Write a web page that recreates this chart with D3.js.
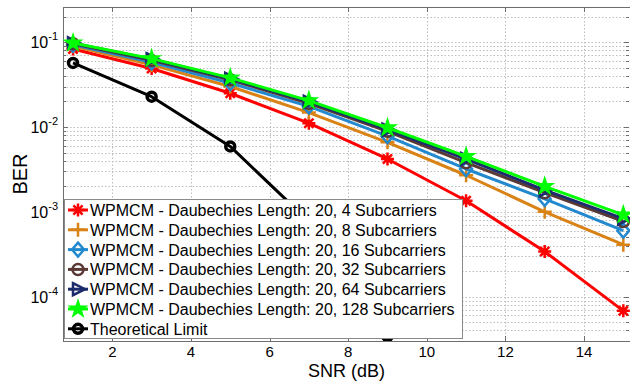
<!DOCTYPE html>
<html>
<head>
<meta charset="utf-8">
<script src="https://cdn.jsdelivr.net/npm/d3@7"></script>
<style>
  body { margin: 0; background: #fff; }
  svg { display: block; font-family: "Liberation Sans", Arial, sans-serif; }
</style>
</head>
<body>
<div class="charts-container"></div>
<script>
"use strict";

// SNR points (dB)
const snr = [1, 3, 5, 7, 9, 11, 13, 15];
const snrTheory = [1, 3, 5, 7, 9, 11];

// BER values
const ber4 = [0.083, 0.049, 0.025, 0.0111, 0.0042, 0.00135, 0.00034, 0.000068];
const ber8 = [0.090, 0.054, 0.030, 0.0148, 0.0066, 0.0027, 0.00100, 0.00041];
const ber16 = [0.093, 0.058, 0.033, 0.0175, 0.0078, 0.0032, 0.00142, 0.00060];
const ber32 = [0.096, 0.061, 0.036, 0.0190, 0.0089, 0.0038, 0.00168, 0.00077];
const ber64 = [0.097, 0.063, 0.037, 0.0198, 0.0093, 0.0042, 0.00180, 0.00083];
const ber128 = [0.098, 0.064, 0.038, 0.0205, 0.0098, 0.0045, 0.00200, 0.00092];
const berTheory = [0.057, 0.0228, 0.0059, 0.00077, 0.000034, 0.00000026];

const seriesNames = [
  "WPMCM - Daubechies Length: 20, 4 Subcarriers",
  "WPMCM - Daubechies Length: 20, 8 Subcarriers",
  "WPMCM - Daubechies Length: 20, 16 Subcarriers",
  "WPMCM - Daubechies Length: 20, 32 Subcarriers",
  "WPMCM - Daubechies Length: 20, 64 Subcarriers",
  "WPMCM - Daubechies Length: 20, 128 Subcarriers",
  "Theoretical Limit"
];

const xTicks = [2, 4, 6, 8, 10, 12, 14];
const yDecades = [1e-4, 1e-3, 1e-2, 1e-1];
const yDecadeLabels = ["-4", "-3", "-2", "-1"];

const series = [
  { name: seriesNames[0], x: snr, y: ber4, color: "#ff0000", marker: "asterisk" },
  { name: seriesNames[1], x: snr, y: ber8, color: "#d98216", marker: "plus" },
  { name: seriesNames[2], x: snr, y: ber16, color: "#2389cf", marker: "diamond" },
  { name: seriesNames[3], x: snr, y: ber32, color: "#5a3935", marker: "circle" },
  { name: seriesNames[4], x: snr, y: ber64, color: "#1b2b6b", marker: "triangle" },
  { name: seriesNames[5], x: snr, y: ber128, color: "#00ff00", marker: "star" },
  { name: seriesNames[6], x: snrTheory, y: berTheory, color: "#000000", marker: "ring" }
];

// marker path drawn around (0, 0)
function markerPath(type) {
  switch (type) {
    case "asterisk":
      return "M-6.5,0L6.5,0M0,-6.5L0,6.5M-4.6,-4.6L4.6,4.6M-4.6,4.6L4.6,-4.6";
    case "plus":
      return "M-7,0L7,0M0,-7L0,7";
    case "diamond":
      return "M0,-7L6,0L0,7L-6,0Z";
    case "circle":
      return "M-5.5,0A5.5,5.5 0 1,0 5.5,0A5.5,5.5 0 1,0 -5.5,0Z";
    case "triangle":
      return "M-5,-6L7,0L-5,6Z";
    case "star":
      return d3.symbol(d3.symbolStar, 55)();
    case "ring":
      return "M-4.5,0A4.5,4.5 0 1,0 4.5,0A4.5,4.5 0 1,0 -4.5,0Z";
  }
}

function drawChart() {
  const width = 630;
  const height = 381;
  const left = 63, right = 630, top = 7, bottom = 341;

  const svg = d3.select(".charts-container")
    .append("svg")
      .attr("width", width)
      .attr("height", height);

  const xScale = d3.scaleLinear()
    .domain([0.745, 15.17])
    .range([left, right]);

  const yScale = d3.scaleLog()
    .domain([3e-5, 0.26])
    .range([bottom, top]);

  // minor + major y values for grid
  const yGrid = [];
  [1e-5, 1e-4, 1e-3, 1e-2, 1e-1].forEach(dec => {
    for (let k = 1; k <= 9; k++) {
      const v = dec * k;
      if (v >= 3e-5 && v <= 0.26) yGrid.push(v);
    }
  });

  const grid = svg.append("g")
    .attr("stroke", "#bdbdbd")
    .attr("stroke-width", 1)
    .attr("stroke-dasharray", "1.5,2");

  grid.selectAll(".gy")
    .data(yGrid)
    .join("line")
      .attr("x1", left)
      .attr("x2", right)
      .attr("y1", d => Math.round(yScale(d)) + 0.5)
      .attr("y2", d => Math.round(yScale(d)) + 0.5);

  grid.selectAll(".gx")
    .data(xTicks)
    .join("line")
      .attr("x1", d => Math.round(xScale(d)) + 0.5)
      .attr("x2", d => Math.round(xScale(d)) + 0.5)
      .attr("y1", top)
      .attr("y2", bottom);

  // Axes: ticks pointing inwards
  const axisColor = "#6e6e6e";
  const ticks = svg.append("g")
    .attr("stroke", axisColor)
    .attr("stroke-width", 1);

  ticks.selectAll(".ty")
    .data(yGrid)
    .join("line")
      .attr("x1", left)
      .attr("x2", d => left + (yDecades.includes(d) ? 5 : 3))
      .attr("y1", d => Math.round(yScale(d)) + 0.5)
      .attr("y2", d => Math.round(yScale(d)) + 0.5);

  ticks.selectAll(".tyr")
    .data(yGrid)
    .join("line")
      .attr("x1", right - 1)
      .attr("x2", d => right - 1 - (yDecades.includes(d) ? 5 : 3))
      .attr("y1", d => Math.round(yScale(d)) + 0.5)
      .attr("y2", d => Math.round(yScale(d)) + 0.5);

  ticks.selectAll(".tx")
    .data(xTicks)
    .join("line")
      .attr("x1", d => Math.round(xScale(d)) + 0.5)
      .attr("x2", d => Math.round(xScale(d)) + 0.5)
      .attr("y1", bottom)
      .attr("y2", bottom - 5);

  ticks.selectAll(".txt")
    .data(xTicks)
    .join("line")
      .attr("x1", d => Math.round(xScale(d)) + 0.5)
      .attr("x2", d => Math.round(xScale(d)) + 0.5)
      .attr("y1", top)
      .attr("y2", top + 5);

  // Frame
  svg.append("rect")
    .attr("x", left + 0.5)
    .attr("y", top + 0.5)
    .attr("width", right - left)
    .attr("height", bottom - top)
    .attr("fill", "none")
    .attr("stroke", axisColor)
    .attr("stroke-width", 1);

  // Clip for data
  svg.append("clipPath")
    .attr("id", "plot-clip")
    .append("rect")
      .attr("x", left)
      .attr("y", top)
      .attr("width", right - left)
      .attr("height", bottom - top);

  const plot = svg.append("g").attr("clip-path", "url(#plot-clip)");

  const lineGenerator = d3.line()
    .x(d => xScale(d[0]))
    .y(d => yScale(d[1]));

  series.forEach(s => {
    const pts = s.x.map((x, i) => [x, s.y[i]]);
    const g = plot.append("g");

    g.append("path")
      .attr("d", lineGenerator(pts))
      .attr("fill", "none")
      .attr("stroke", s.color)
      .attr("stroke-width", 3)
      .attr("stroke-linejoin", "round");

    g.selectAll("path.marker")
      .data(pts)
      .join("path")
        .attr("class", "marker")
        .attr("d", markerPath(s.marker))
        .attr("transform", d => `translate(${xScale(d[0])},${yScale(d[1])})`)
        .attr("fill", s.marker === "star" ? s.color : "none")
        .attr("stroke", s.color)
        .attr("stroke-width", s.marker === "ring" ? 3.5 : 2.5);
  });

  // Y tick labels (10^n)
  const yLabels = svg.append("g")
    .attr("fill", "#000");

  yDecades.forEach((v, i) => {
    const t = yLabels.append("text")
      .attr("x", 58)
      .attr("y", yScale(v) + 6)
      .attr("text-anchor", "end")
      .attr("font-size", 16);
    t.append("tspan").text("10");
    t.append("tspan")
      .attr("dy", -8)
      .attr("font-size", 11)
      .text(yDecadeLabels[i]);
  });

  // X tick labels
  svg.append("g")
    .selectAll("text")
    .data(xTicks)
    .join("text")
      .attr("x", d => xScale(d))
      .attr("y", 357)
      .attr("text-anchor", "middle")
      .attr("font-size", 15)
      .text(d => d);

  // Axis titles
  svg.append("text")
    .attr("x", (left + right) / 2)
    .attr("y", 377)
    .attr("text-anchor", "middle")
    .attr("font-size", 18)
    .text("SNR (dB)");

  svg.append("text")
    .attr("transform", `translate(27, ${(top + bottom) / 2}) rotate(-90)`)
    .attr("text-anchor", "middle")
    .attr("font-size", 20)
    .text("BER");

  // Legend
  const legend = svg.append("g");
  legend.append("rect")
    .attr("x", 64.5)
    .attr("y", 199.5)
    .attr("width", 398)
    .attr("height", 139)
    .attr("fill", "#fff")
    .attr("stroke", "#8a8a8a")
    .attr("stroke-width", 1);

  const rows = legend.selectAll("g.row")
    .data(series)
    .join("g")
      .attr("class", "row")
      .attr("transform", (d, i) => `translate(78, ${210 + i * 19.8})`);

  rows.append("line")
    .attr("x1", -10)
    .attr("x2", 10)
    .attr("stroke", d => d.color)
    .attr("stroke-width", 3);

  rows.append("path")
    .attr("d", d => markerPath(d.marker))
    .attr("fill", d => d.marker === "star" ? d.color : "none")
    .attr("stroke", d => d.color)
    .attr("stroke-width", d => d.marker === "ring" ? 3.5 : 2.5);

  rows.append("text")
    .attr("x", 12)
    .attr("y", 6)
    .attr("font-size", 16)
    .text(d => d.name);
}

drawChart();
</script>
</body>
</html>
